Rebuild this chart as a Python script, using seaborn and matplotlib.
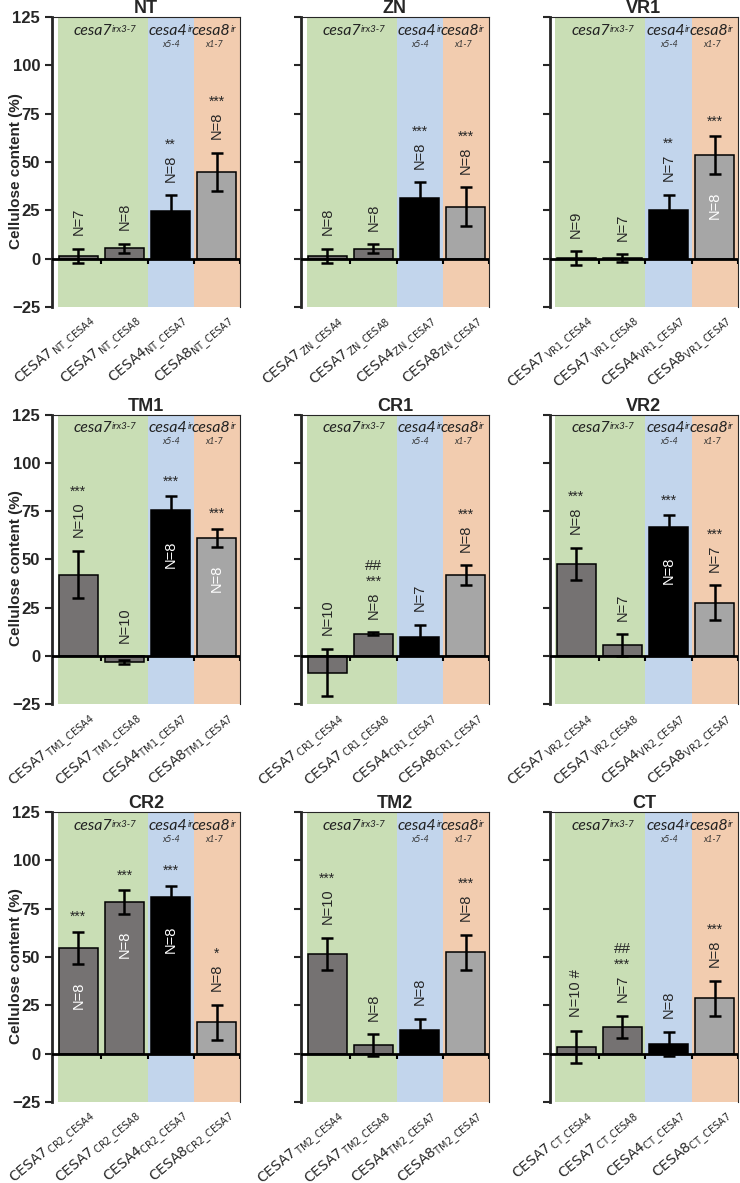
import numpy as np
import pandas as pd
import matplotlib
matplotlib.use('Agg')
import matplotlib.pyplot as plt
import seaborn as sns

sns.set_style('ticks')
plt.rcParams['font.family'] = ['Liberation Sans', 'DejaVu Sans']
plt.rcParams['mathtext.fontset'] = 'dejavusans'

panels = ['NT', 'ZN', 'VR1', 'TM1', 'CR1', 'VR2', 'CR2', 'TM2', 'CT']

# bar order: CESA7_x_CESA4, CESA7_x_CESA8, CESA4_x_CESA7, CESA8_x_CESA7
means = [
    [1.5, 5.3, 24.8, 44.8],
    [1.5, 5.2, 31.6, 26.9],
    [0.3, 0.3, 25.0, 53.6],
    [42.2, -3.0, 75.7, 61.3],
    [-8.5, 11.5, 9.7, 42.0],
    [47.7, 5.7, 66.8, 27.6],
    [54.8, 78.5, 81.1, 16.2],
    [51.7, 4.3, 12.3, 52.4],
    [3.5, 13.9, 5.0, 28.7],
]
errs = [
    [3.5, 2.5, 8.0, 10.0],
    [3.5, 2.3, 8.0, 10.0],
    [3.5, 2.0, 8.0, 9.8],
    [12.2, 1.0, 7.0, 4.7],
    [12.2, 0.8, 6.5, 5.0],
    [8.3, 5.6, 6.1, 9.0],
    [8.3, 6.0, 5.8, 9.0],
    [8.3, 5.7, 5.8, 9.0],
    [8.3, 5.8, 6.2, 9.0],
]
n_labels = [
    ['N=7', 'N=8', 'N=8', 'N=8'],
    ['N=8', 'N=8', 'N=8', 'N=8'],
    ['N=9', 'N=7', 'N=7', 'N=8'],
    ['N=10', 'N=10', 'N=8', 'N=8'],
    ['N=10', 'N=8', 'N=7', 'N=8'],
    ['N=8', 'N=7', 'N=8', 'N=7'],
    ['N=8', 'N=8', 'N=8', 'N=8'],
    ['N=10', 'N=8', 'N=8', 'N=8'],
    ['N=10 #', 'N=7', 'N=8', 'N=8'],
]
stars = [
    ['', '', '**', '***'],
    ['', '', '***', '***'],
    ['', '', '**', '***'],
    ['***', '', '***', '***'],
    ['', '***', '', '***'],
    ['***', '', '***', '***'],
    ['***', '***', '***', '*'],
    ['***', '', '', '***'],
    ['', '***', '', '***'],
]
hashes = [
    ['', '', '', ''], ['', '', '', ''], ['', '', '', ''],
    ['', '', '', ''], ['', '##', '', ''], ['', '', '', ''],
    ['', '', '', ''], ['', '', '', ''], ['', '##', '', ''],
]
# N label drawn inside the bar (white)
inside = [
    [0, 0, 0, 0], [0, 0, 0, 0], [0, 0, 0, 1],
    [0, 0, 1, 1], [0, 0, 0, 0], [0, 0, 1, 0],
    [1, 1, 1, 0], [0, 0, 0, 0], [0, 0, 0, 0],
]

bar_colors = ['#767171', '#767171', '#000000', '#A6A6A6']
green, blue, orange = '#C9DEB5', '#C2D5EC', '#F2CCAF'

fig, axes = plt.subplots(3, 3, figsize=(7.4, 11.83), dpi=100)
fig.subplots_adjust(left=0.0703, right=0.997, top=0.9856, bottom=0.0685,
                    wspace=0.325, hspace=0.371)

for k, name in enumerate(panels):
    ax = axes.flat[k]
    labels = [r'CESA7$_{\,\mathrm{%s\_CESA4}}$' % name,
              r'CESA7$_{\,\mathrm{%s\_CESA8}}$' % name,
              r'CESA4$_{\mathrm{%s\_CESA7}}$' % name,
              r'CESA8$_{\mathrm{%s\_CESA7}}$' % name]
    df = pd.DataFrame({'label': labels, 'value': means[k]})

    ax.axvspan(-0.45, 1.5, color=green, lw=0, zorder=0)
    ax.axvspan(1.5, 2.5, color=blue, lw=0, zorder=0)
    ax.axvspan(2.5, 3.5, color=orange, lw=0, zorder=0)

    sns.barplot(data=df, x='label', y='value', hue='label',
                palette=dict(zip(labels, bar_colors)), legend=False,
                width=0.84, edgecolor='black', linewidth=1.1,
                errorbar=None, ax=ax, zorder=2)
    ax.errorbar(range(4), means[k], yerr=errs[k], fmt='none', ecolor='black',
                elinewidth=1.8, capsize=4.5, capthick=1.8, zorder=4)

    ax.set_xlim(-0.57, 3.5)
    ax.set_ylim(-25, 125)
    ax.set_yticks([-25, 0, 25, 50, 75, 100, 125])
    ax.axhline(0, color='black', lw=2, zorder=3)
    ax.vlines([0.5, 1.5, 2.5, 3.5], -2.6, 0, color='black', lw=1.5, zorder=3)

    # category labels, anchored a little right of each bar centre
    ax.set_xticks(range(4), [''] * 4)
    ax.tick_params(axis='x', length=0)
    for i, lab in enumerate(labels):
        ax.text(i + 0.19, -0.017, lab, transform=ax.get_xaxis_transform(),
                rotation=40, ha='right', va='top', rotation_mode='anchor',
                fontsize=10, family='DejaVu Sans', clip_on=False)

    ax.tick_params(axis='y', direction='out', length=5, width=1.5, labelsize=12)
    for t in ax.get_yticklabels():
        t.set_fontweight('bold')

    ax.spines['bottom'].set_visible(False)
    ax.spines['left'].set_linewidth(2)
    ax.spines['top'].set_linewidth(0.8)
    ax.spines['right'].set_linewidth(0.8)

    ax.set_xlabel('')
    if k % 3 == 0:
        ax.set_ylabel('Cellulose content (%)', fontsize=11, fontweight='bold')
        ax.yaxis.set_label_coords(-0.155, 0.47)
    else:
        ax.set_ylabel('')
        ax.tick_params(axis='y', labelleft=False)
    ax.set_title(name, fontsize=13, fontweight='bold', pad=2)

    # group headers
    for xr, main, sup, sub in [(0.73, 'cesa7', 'irx3-7', ''),
                               (2.36, 'cesa4', 'ir', 'x5-4'),
                               (3.29, 'cesa8', 'ir', 'x1-7')]:
        h = ax.text(xr, 118, main, ha='right', va='center', style='italic',
                    fontsize=11.5, family='Lato', color='#222222', zorder=5)
        ax.annotate(sup, xy=(1, 0.92), xycoords=h, ha='left', va='top',
                    style='italic', fontsize=7, family='Lato', color='#222222')
        if sub:
            ax.text(xr - 0.35, 111, sub, ha='center', va='center',
                    style='italic', fontsize=6.5, family='Lato', color='#333333')

    # N labels and significance marks
    for i in range(4):
        v, e = means[k][i], errs[k][i]
        if inside[k][i]:
            ax.text(i, v - e - 9, n_labels[k][i], rotation=90, ha='center',
                    va='top', fontsize=10.5, color='white', zorder=5)
            st = ax.text(i, v + e + 4, stars[k][i], ha='center', va='bottom',
                         fontsize=10, zorder=5)
        else:
            top = max(v + e, 0)
            nt = ax.text(i, top + 7, n_labels[k][i], rotation=90, ha='center',
                         va='bottom', fontsize=10.5, zorder=5)
            st = ax.annotate(stars[k][i], xy=(0.5, 1), xycoords=nt,
                             xytext=(0, 2), textcoords='offset points',
                             ha='center', va='bottom', fontsize=10)
        if hashes[k][i]:
            ax.annotate(hashes[k][i], xy=(0.5, 1), xycoords=st,
                        xytext=(0, 1), textcoords='offset points',
                        ha='center', va='bottom', fontsize=11)

plt.savefig('out.png', dpi=100)
